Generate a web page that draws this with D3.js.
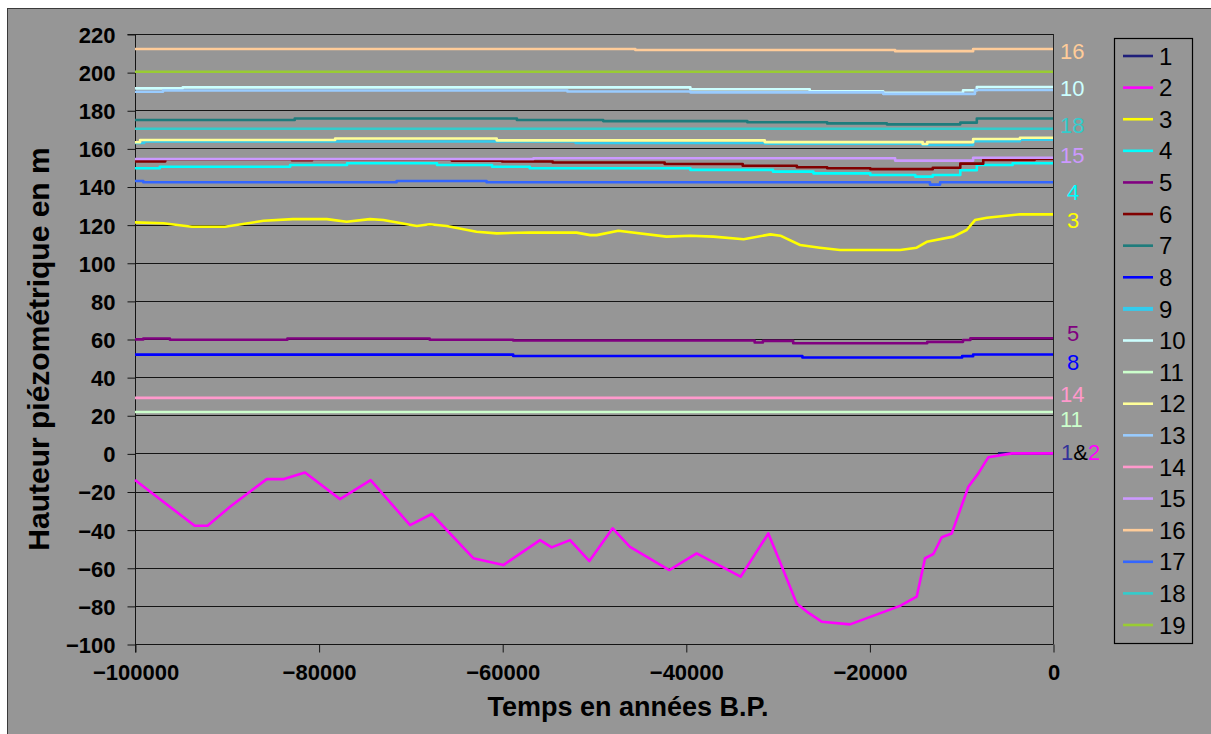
<!DOCTYPE html>
<html><head><meta charset="utf-8">
<script src="https://cdn.jsdelivr.net/npm/d3@7/dist/d3.min.js"></script>
<style>
html,body{margin:0;padding:0;background:#fff;}
svg{display:block;font-family:"Liberation Sans",Arial,sans-serif;}
</style></head>
<body>
<svg id="chart" width="1211" height="734"></svg>
<script>
// ---------- data ----------
const seriesNames = ["1","2","3","4","5","6","7","8","9","10","11","12","13","14","15","16","17","18","19"];
const xTicks = [-100000,-80000,-60000,-40000,-20000,0];
const yTicks = [-100,-80,-60,-40,-20,0,20,40,60,80,100,120,140,160,180,200,220];

const s1 = [[-6000,0],[0,0]];
const s2 = [[-100000,-14],[-93500,-38],[-92100,-38],[-89650,-28],[-85650,-13.5],[-83770,-13.5],[-81480,-10],
  [-77670,-24],[-74330,-14],[-70040,-37.6],[-67680,-31.8],[-63150,-55],[-59880,-58.6],[-55880,-45.5],
  [-54610,-49.3],[-52610,-45.5],[-50500,-56.5],[-47970,-39.3],[-46080,-49],[-41800,-61.2],[-38820,-52.5],
  [-34030,-64.7],[-31010,-42],[-29380,-61.2],[-27920,-78.7],[-26830,-83],[-25200,-88.3],[-22110,-89.7],
  [-16660,-80],[-14850,-75.2],[-13940,-55],[-13030,-52.8],[-12120,-44],[-11030,-42],[-9220,-17.5],
  [-8130,-10.5],[-7040,-2],[-4500,0],[0,0]];
const s3 = [[-100000,121.2],[-96900,120.7],[-93800,118.9],[-90200,118.9],[-86000,122],[-82800,122.9],
  [-79100,122.9],[-76950,121.5],[-74400,122.9],[-72950,122.4],[-69300,119.3],[-67900,120.2],[-66050,119.3],
  [-62800,116.3],[-60600,115.4],[-57000,115.9],[-51900,115.8],[-50400,114.5],[-49700,114.5],[-47350,116.8],
  [-42100,113.7],[-39500,114.2],[-37000,113.7],[-33700,112.3],[-30800,114.9],[-29700,114.2],[-27550,109.3],
  [-25400,107.9],[-23200,106.7],[-16650,106.7],[-14850,107.9],[-13750,111],[-10850,113.7],[-9400,117.2],
  [-8500,122.4],[-7200,123.6],[-3600,125.4],[0,125.4]];
const s4 = [[-100000,149.6],[-97300,150.4],[-83100,151.3],[-76900,152.2],[-67100,151.3],[-61100,150.4],
  [-57000,149.6],[-39500,148.7],[-30500,147.8],[-26100,146.9],[-19900,146],[-15000,145.2],[-13100,146],
  [-10100,148.5],[-8300,151.3],[-4400,152.2],[0,152.2]];
const s5 = [[-100000,59.8],[-99100,60.3],[-96200,59.6],[-83400,60.3],[-67900,59.6],[-58800,59.2],[-32500,58.2],
  [-31600,59],[-28300,57.8],[-13700,58.5],[-9800,59.5],[-9000,60.4],[0,60.4]];
const s6 = [[-100000,153.2],[-96700,154.3],[-82900,153.8],[-80700,154.3],[-65500,153.6],[-60000,153.1],
  [-54500,152.6],[-42300,151.8],[-33800,150.9],[-27900,150.1],[-24600,149.6],[-19900,149.1],[-13100,149.8],
  [-10100,152],[-7600,153.9],[-2000,154.4],[0,154.4]];
const s7 = [[-100000,174.9],[-82600,175.7],[-58400,174.9],[-49000,174.3],[-33300,173.7],[-24600,173.1],
  [-18100,172.6],[-10100,173.5],[-8300,175.7],[0,175.7]];
const s8 = [[-100000,51.8],[-58800,51.1],[-27300,50.3],[-9900,51],[-8700,51.9],[0,51.9]];
const s9 = [[-100000,162.8],[-99000,163.6],[-52000,162.8],[-31400,162.5],[-14200,161.8],[-8700,163.8],[-3600,164.5],[0,164.5]];
const s10 = [[-100000,191.5],[-94800,192],[-39500,191],[-26500,190],[-18500,189.2],[-9800,190.5],[-8300,192.2],[0,192.2]];
const s11 = [[-100000,21.7],[0,21.7]];
const s12 = [[-100000,163.2],[-99450,164.4],[-78200,165.2],[-60600,164.2],[-31400,163.3],[-14200,162.3],
  [-13700,163.3],[-8700,164.9],[-3600,165.6],[0,165.6]];
const s13 = [[-100000,189.7],[-96950,190.4],[-52900,189.8],[-39500,189.4],[-18500,188.6],[-8500,190.6],[0,190.6]];
const s14 = [[-100000,29.1],[0,29.1]];
const s15 = [[-100000,154.4],[-56600,154.8],[-17200,153.6],[-8700,155.1],[0,155.1]];
const s16 = [[-100000,212.1],[-45500,211.6],[-17200,211],[-8700,212.1],[0,212.1]];
const s17 = [[-100000,142.9],[-99100,142.2],[-71500,142.9],[-61700,142.2],[-13400,141],[-12300,142.2],[0,142.2]];
const s18 = [[-100000,170.3],[0,170.3]];
const s19 = [[-100000,200.2],[0,200.2]];
const seriesValues = [s1,s2,s3,s4,s5,s6,s7,s8,s9,s10,s11,s12,s13,s14,s15,s16,s17,s18,s19];

// annotation labels at the right of the plot (value = vertical position in data units)
const endLabelTexts = ["16","10","18","15","4","3","5","8","14","11"];
const endLabelValues = [211.2,191.7,172.3,156.5,137.3,122.4,63.1,47.9,31.2,17.9];
const endLabelSeries = [16,10,18,15,4,3,5,8,14,11];
const endLabel12Value = 0.7;

// ---------- style ----------
const colors = ["#1f1f7a","#ff00ff","#ffff00","#00ffff","#800080","#800000","#1e7c7c","#0000ff","#33ccee",
  "#ccffff","#ccffcc","#ffff99","#99ccff","#ff99cc","#cc99ff","#ffcc99","#3366ff","#33cccc","#99cc33"];
const labelColors = {1:"#33339a"};
const stepSeries = new Set(["1","4","5","6","7","8","9","10","11","12","13","14","15","16","17","18","19"]);

const margin = {left:135, right:1053, top:34, bottom:644};
const bg = "#969696";

const svg = d3.select("#chart");
svg.append("rect").attr("x",7.5).attr("y",8.5).attr("width",1215).attr("height",740)
  .attr("fill",bg).attr("stroke","#3a3a3a").attr("stroke-width",1);

const x = d3.scaleLinear().domain([-100000,0]).range([margin.left, margin.right]);
const y = d3.scaleLinear().domain([-100,220]).range([margin.bottom, margin.top]);

// gridlines
svg.append("g").selectAll("line").data(yTicks).join("line")
  .attr("x1",margin.left).attr("x2",margin.right)
  .attr("y1",d=>Math.round(y(d))+0.5).attr("y2",d=>Math.round(y(d))+0.5)
  .attr("stroke","#141414").attr("stroke-width",1);
svg.append("line").attr("x1",margin.right+0.5).attr("x2",margin.right+0.5)
  .attr("y1",margin.top).attr("y2",margin.bottom).attr("stroke","#222").attr("stroke-width",1);

// axes
const yAxis = d3.axisLeft(y).tickValues(yTicks).tickSize(8).tickPadding(12).tickFormat(d3.format("d"));
const gy = svg.append("g").attr("transform",`translate(${margin.left+0.5},0.5)`).call(yAxis);
gy.select(".domain").attr("stroke","#141414").attr("d",`M-8,${margin.top}H0V${margin.bottom+8}`);
gy.selectAll(".tick line").attr("stroke","#141414");
gy.selectAll(".tick text").attr("fill","#000").style("font-size","22px").style("font-weight","bold")
  .style("font-family","'Liberation Sans',Arial,sans-serif").attr("dy","0.36em");

const xAxis = d3.axisBottom(x).tickValues(xTicks).tickSize(8).tickPadding(12).tickFormat(d3.format("d"));
const gx = svg.append("g").attr("transform",`translate(0.5,${margin.bottom+0.5})`).call(xAxis);
gx.select(".domain").attr("stroke","#141414").attr("d",`M${margin.left},0H${margin.right}`);
gx.selectAll(".tick line").attr("stroke","#141414");
gx.selectAll(".tick text").attr("fill","#000").style("font-size","22px").style("font-weight","bold")
  .style("font-family","'Liberation Sans',Arial,sans-serif");

// series
const lineLinear = d3.line().x(d=>x(d[0])).y(d=>y(d[1]));
const lineStep = d3.line().x(d=>x(d[0])).y(d=>y(d[1])).curve(d3.curveStepAfter);
const gs = svg.append("g");
seriesValues.forEach((vals,i)=>{
  gs.append("path").datum(vals)
    .attr("d", stepSeries.has(seriesNames[i]) ? lineStep : lineLinear)
    .attr("fill","none").attr("stroke",colors[i]).attr("stroke-width",2.6)
    .attr("stroke-linejoin","round");
});

// axis titles
svg.append("text").attr("x",628).attr("y",716).attr("text-anchor","middle")
  .style("font-size","27px").style("font-weight","bold").text("Temps en années B.P.");
svg.append("text").attr("transform","translate(49,349) rotate(-90)").attr("text-anchor","middle")
  .style("font-size","30px").style("font-weight","bold").text("Hauteur piézométrique en m");

// right-hand labels
const gl = svg.append("g").style("font-size","22px");
endLabelTexts.forEach((t,i)=>{
  gl.append("text").attr("x", t.length>1 ? 1060 : 1067).attr("y", y(endLabelValues[i]))
    .attr("dy","0.36em").attr("fill", colors[endLabelSeries[i]-1]).text(t);
});
const t12 = gl.append("text").attr("x",1061).attr("y",y(endLabel12Value)).attr("dy","0.36em");
t12.append("tspan").attr("fill",labelColors[1]).text("1");
t12.append("tspan").attr("fill","#000").text("&");
t12.append("tspan").attr("fill",colors[1]).text("2");

// legend
const lg = svg.append("g");
lg.append("rect").attr("x",1114.5).attr("y",38.5).attr("width",78).attr("height",605)
  .attr("fill",bg).attr("stroke","#000").attr("stroke-width",1.2);
const ly = d3.scalePoint().domain(seriesNames).range([56,625]);
seriesNames.forEach((n,i)=>{
  lg.append("line").attr("x1",1123).attr("x2",1153).attr("y1",ly(n)).attr("y2",ly(n))
    .attr("stroke",colors[i]).attr("stroke-width", n==="9" ? 4 : 2.6);
  lg.append("text").attr("x",1159).attr("y",ly(n)).attr("dy","0.36em")
    .style("font-size","24px").attr("fill","#000").text(n);
});
</script>
</body></html>
